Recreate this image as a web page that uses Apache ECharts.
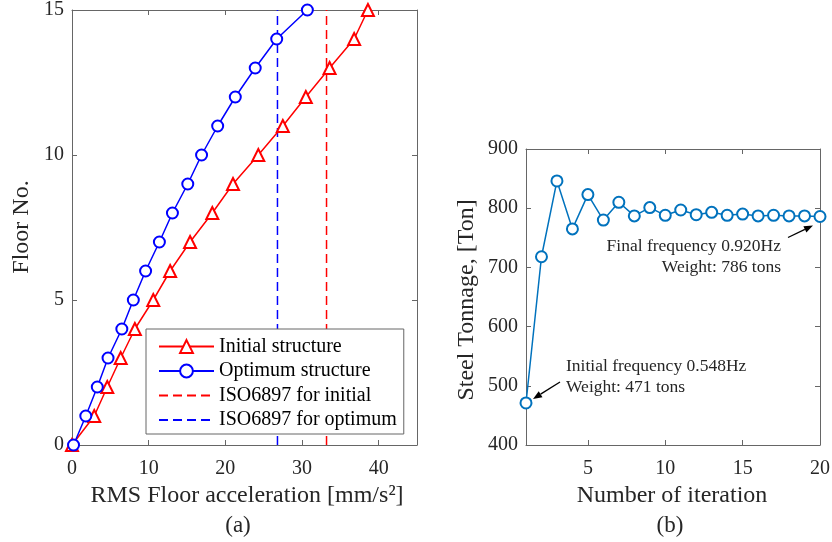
<!DOCTYPE html>
<html>
<head>
<meta charset="utf-8">
<script src="https://cdn.jsdelivr.net/npm/echarts@6/dist/echarts.min.js"></script>
<style>
  html, body { margin: 0; padding: 0; background: #fff; }
  #chart { width: 832px; height: 542px; }
</style>
</head>
<body>
<div id="chart"></div>
<script>
// (a) floor response
var floors = [0, 1, 2, 3, 4, 5, 6, 7, 8, 9, 10, 11, 12, 13, 14, 15];
var initialAcc = [0, 2.9, 4.6, 6.35, 8.2, 10.6, 12.8, 15.4, 18.3, 21.0, 24.3, 27.5, 30.5, 33.6, 36.8, 38.6];
var optimumAcc = [0.2, 1.8, 3.3, 4.7, 6.5, 8.0, 9.6, 11.4, 13.1, 15.1, 16.9, 19.0, 21.3, 23.9, 26.7, 30.7];
var isoInitial = 33.2;
var isoOptimum = 26.8;
var accTicks = [0, 10, 20, 30, 40];

// (b) optimisation history
var iterations = [1, 2, 3, 4, 5, 6, 7, 8, 9, 10, 11, 12, 13, 14, 15, 16, 17, 18, 19, 20];
var tonnage = [471, 718, 846, 765, 823, 780, 810, 787, 801, 788, 797, 789, 793, 788, 790, 787, 788, 787, 787, 786];
var iterTicks = [5, 10, 15, 20];

var FONT = '"Liberation Serif", "Times New Roman", serif';
var INK = '#262626';
var AXIS = '#666666';

function pairs(xs, ys) {
  return xs.map(function (x, i) { return [x, ys[i]]; });
}

// box axis helper: main axis with labels, mirror axis without
function axis(gridIndex, pos, opts, labels) {
  var a = {
    type: 'value',
    gridIndex: gridIndex,
    position: pos,
    min: opts.min,
    max: opts.max,
    splitLine: { show: false },
    axisLine: { onZero: false, lineStyle: { color: AXIS, width: 1 } },
    axisTick: { inside: true, length: 5, lineStyle: { color: AXIS } },
    axisLabel: {
      show: labels,
      color: INK,
      fontFamily: FONT,
      fontSize: 20,
      margin: (pos === 'bottom') ? 14 : 8
    }
  };
  if (opts.interval) a.interval = opts.interval;
  if (opts.ticks) {
    a.axisLabel.customValues = opts.ticks;
    a.axisTick.customValues = opts.ticks;
  }
  return a;
}

var chart = echarts.init(document.getElementById('chart'));

var accOpt = { min: 0, max: 45, ticks: accTicks };
var floorOpt = { min: 0, max: 15, interval: 5 };
var iterOpt = { min: 1, max: 20, ticks: iterTicks };
var tonOpt = { min: 400, max: 900, interval: 100 };

chart.setOption({
  animation: false,
  backgroundColor: '#fff',
  textStyle: { fontFamily: FONT },
  grid: [
    { left: 72, top: 10, width: 345, height: 435, outerBoundsMode: 'none' },
    { left: 526, top: 149, width: 294, height: 296, outerBoundsMode: 'none' }
  ],
  xAxis: [
    axis(0, 'bottom', accOpt, true),
    axis(0, 'top', accOpt, false),
    axis(1, 'bottom', iterOpt, true),
    axis(1, 'top', iterOpt, false)
  ],
  yAxis: [
    axis(0, 'left', floorOpt, true),
    axis(0, 'right', floorOpt, false),
    axis(1, 'left', tonOpt, true),
    axis(1, 'right', tonOpt, false)
  ],
  legend: {
    left: 146,
    top: 329,
    orient: 'vertical',
    itemWidth: 55,
    itemHeight: 16,
    itemGap: 4.5,
    padding: [7.5, 7, 4, 12],
    backgroundColor: '#fff',
    borderColor: AXIS,
    borderWidth: 1,
    borderRadius: 0,
    textStyle: { fontFamily: FONT, fontSize: 20, lineHeight: 20, color: '#000' },
    data: [
      'Initial structure',
      'Optimum structure',
      { name: 'ISO6897 for initial', itemStyle: { opacity: 0 } },
      { name: 'ISO6897 for optimum', itemStyle: { opacity: 0 } }
    ]
  },
  series: [
    {
      name: 'ISO6897 for initial',
      type: 'line',
      xAxisIndex: 0, yAxisIndex: 0,
      symbol: 'none',
      data: [[isoInitial, floorOpt.min], [isoInitial, floorOpt.max]],
      lineStyle: { color: '#ff0000', width: 1.5, type: [9, 5] },
      itemStyle: { color: '#ff0000' }
    },
    {
      name: 'ISO6897 for optimum',
      type: 'line',
      xAxisIndex: 0, yAxisIndex: 0,
      symbol: 'none',
      data: [[isoOptimum, floorOpt.min], [isoOptimum, floorOpt.max]],
      lineStyle: { color: '#0000ff', width: 1.5, type: [9, 5] },
      itemStyle: { color: '#0000ff' }
    },
    {
      name: 'Initial structure',
      type: 'line',
      xAxisIndex: 0, yAxisIndex: 0,
      data: pairs(initialAcc, floors),
      symbol: 'emptyTriangle',
      symbolSize: 12,
      lineStyle: { color: '#ff0000', width: 1.5 },
      itemStyle: { color: '#ff0000', borderWidth: 1.5 }
    },
    {
      name: 'Optimum structure',
      type: 'line',
      xAxisIndex: 0, yAxisIndex: 0,
      data: pairs(optimumAcc, floors),
      symbol: 'emptyCircle',
      symbolSize: 11,
      lineStyle: { color: '#0000ff', width: 1.5 },
      itemStyle: { color: '#0000ff', borderWidth: 1.5 }
    },
    {
      name: 'Steel tonnage',
      type: 'line',
      xAxisIndex: 2, yAxisIndex: 2,
      data: pairs(iterations, tonnage),
      symbol: 'emptyCircle',
      symbolSize: 11,
      lineStyle: { color: '#0072bd', width: 1.5 },
      itemStyle: { color: '#0072bd', borderWidth: 1.5 }
    }
  ]
});

// annotations placed relative to the first and last iteration points
function arrow(x1, y1, x2, y2) {
  var ang = Math.atan2(y2 - y1, x2 - x1);
  var L = 9, W = 3.5;
  var bx = x2 - L * Math.cos(ang), by = y2 - L * Math.sin(ang);
  var nx = -Math.sin(ang) * W, ny = Math.cos(ang) * W;
  return [
    { type: 'line', shape: { x1: x1, y1: y1, x2: bx, y2: by }, style: { stroke: '#000', lineWidth: 1.3 } },
    { type: 'polygon', shape: { points: [[x2, y2], [bx + nx, by + ny], [bx - nx, by - ny]] }, style: { fill: '#000' } }
  ];
}

function text(x, y, str, align, size, rot) {
  return {
    type: 'text', x: x, y: y, rotation: rot || 0,
    style: {
      text: str, fill: INK, font: size + 'px ' + FONT,
      textAlign: align, textVerticalAlign: 'middle'
    }
  };
}

var first = chart.convertToPixel({ xAxisIndex: 2, yAxisIndex: 2 }, [iterations[0], tonnage[0]]);
var last = chart.convertToPixel({ xAxisIndex: 2, yAxisIndex: 2 },
  [iterations[iterations.length - 1], tonnage[tonnage.length - 1]]);

var g = [];
g = g.concat(arrow(first[0] + 34, first[1] - 21, first[0] + 7, first[1] - 4));
g.push(text(first[0] + 40, first[1] - 37, 'Initial frequency 0.548Hz', 'left', 17.5));
g.push(text(first[0] + 40, first[1] - 16, 'Weight: 471 tons', 'left', 17.5));
g = g.concat(arrow(last[0] - 32, last[1] + 21, last[0] - 7, last[1] + 9));
g.push(text(last[0] - 39, last[1] + 30, 'Final frequency 0.920Hz', 'right', 17.5));
g.push(text(last[0] - 39, last[1] + 51, 'Weight: 786 tons', 'right', 17.5));

// axis titles and panel captions
g.push(text(247, 496, 'RMS Floor acceleration [mm/s\u00b2]', 'center', 24));
g.push(text(238, 526, '(a)', 'center', 23));
g.push(text(22, 227, 'Floor No.', 'center', 24, Math.PI / 2));
g.push(text(672, 496, 'Number of iteration', 'center', 24));
g.push(text(670, 526, '(b)', 'center', 23));
g.push(text(467, 300, 'Steel Tonnage, [Ton]', 'center', 24, Math.PI / 2));

chart.setOption({ graphic: g });
</script>
</body>
</html>
